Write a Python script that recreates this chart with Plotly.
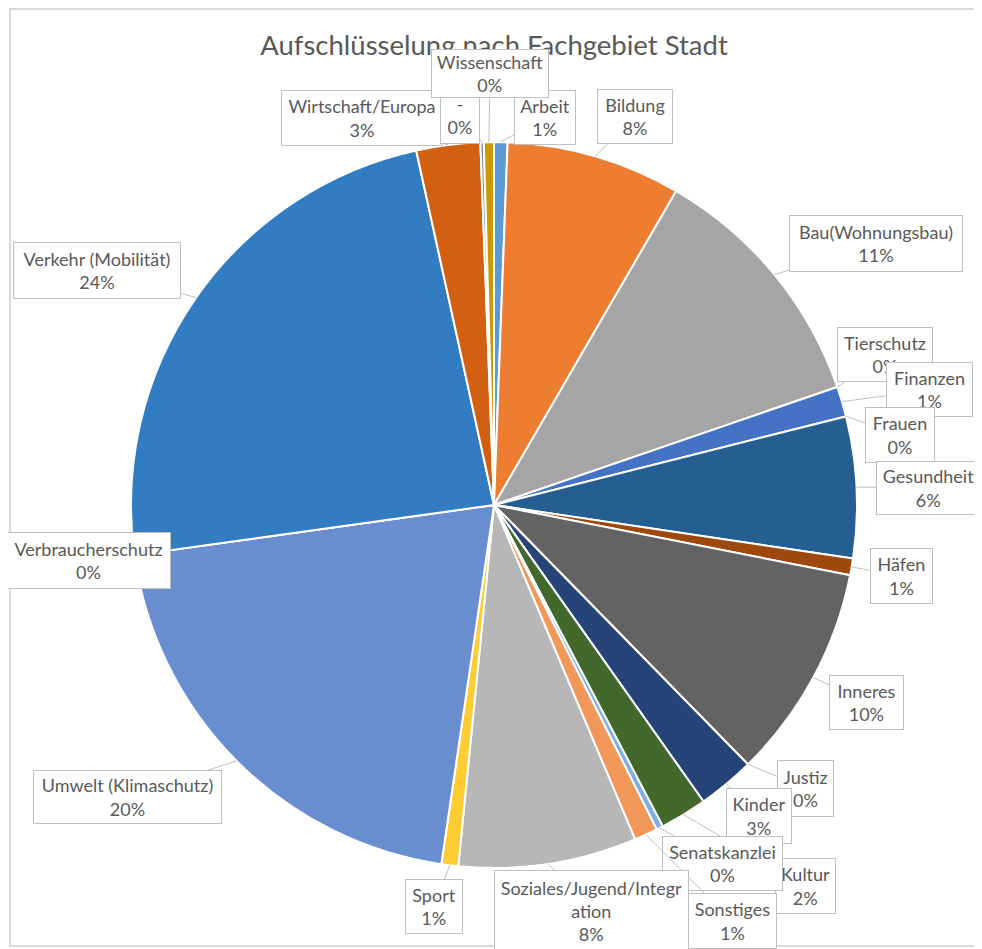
import math
import plotly.graph_objects as go

W, H = 982, 949
OFF = 8  # the html body margin shifts the figure by 8px in the page

# ------------------------------
# Data
# ------------------------------
labels = ["Arbeit", "Bildung", "Bau(Wohnungsbau)", "Tierschutz", "Finanzen", "Frauen",
          "Gesundheit", "Häfen", "Inneres", "Justiz", "Kinder", "Kultur", "Senatskanzlei",
          "Sonstiges", "Soziales/Jugend/Integration", "Sport", "Umwelt (Klimaschutz)",
          "Verbraucherschutz", "Verkehr (Mobilität)", "Wirtschaft/Europa", "-", "Wissenschaft"]
values = [4, 52, 76, 0, 9, 0,
          42, 5, 64, 0, 17, 14, 2,
          7, 53, 5, 137,
          0, 159, 19, 1, 3]

colors = ["#5B9BD5", "#ED7D31", "#A5A5A5", "#FFC000", "#4472C4", "#70AD47",
          "#255E91", "#9E480E", "#636363", "#997300", "#264478", "#43682B", "#7CAFDD",
          "#F1975A", "#B7B7B7", "#FFCD33", "#698ED0",
          "#8CC168", "#327DC2", "#D26012", "#848484", "#CC9A00"]

# Excel wrapped this one inside its callout
display = {"Soziales/Jugend/Integration": "Soziales/Jugend/Integr<br>ation"}

# --- callout boxes: centre x, centre y, width, height (page pixels)
boxes = [(545, 117, 60, 53), (635, 117, 74, 53), (876, 244, 172, 55), (885, 354, 94, 53),
         (929, 390, 85, 53), (900, 435, 68, 54), (928, 488, 103, 52), (901, 576, 61, 54),
         (866, 702, 73, 53), (805, 788, 55, 55), (759, 816, 64, 54), (805, 886, 59, 54),
         (722, 863, 119, 53), (732, 921, 87, 54), (591, 911, 193, 80), (434, 906, 56, 53),
         (127, 797, 187, 52), (88, 560, 163, 55), (97, 270, 166, 55), (362, 118, 160, 54),
         (460, 115, 38, 55), (490, 73, 116, 47)]

# ------------------------------
# Pie geometry (page pixels)
# ------------------------------
CX, CY, R = 494, 505, 363


def px(x):
    return (x - OFF) / W


def py(y):
    return 1 - (y - OFF) / H


fig = go.Figure(go.Pie(
    labels=labels, values=values, sort=False, direction="clockwise", rotation=0,
    marker=dict(colors=colors, line=dict(color="white", width=2)),
    textinfo="none", hoverinfo="label+percent", showlegend=False,
    domain=dict(x=[px(CX - R), px(CX + R)], y=[py(CY + R), py(CY - R)]),
))

total = sum(values)
annotations = []
cum = 0
for lab, v, (bx, by, bw, bh) in zip(labels, values, boxes):
    mid = (cum + v / 2) / total * 2 * math.pi
    cum += v
    tx = CX + R * math.sin(mid)
    ty = CY - R * math.cos(mid)
    pct = round(v / total * 100)
    annotations.append(dict(
        x=px(tx), y=py(ty), xref="paper", yref="paper",
        ax=bx - tx, ay=by - ty, axref="pixel", ayref="pixel",
        text=f"{display.get(lab, lab)}<br>{pct}%",
        showarrow=True, arrowhead=0, arrowwidth=1, arrowcolor="#BFBFBF", standoff=0,
        bgcolor="white", bordercolor="#BFBFBF", borderwidth=1, borderpad=0,
        width=bw, height=bh, align="center", valign="middle",
        font=dict(family="Lato", size=18, color="#595959"),
    ))

fig.update_layout(
    width=W, height=H,
    margin=dict(t=0, l=0, b=0, r=0),
    paper_bgcolor="white",
    title=dict(text="Aufschlüsselung nach Fachgebiet Stadt", x=px(494), xanchor="center",
               y=py(45), yanchor="middle",
               font=dict(family="Lato", size=27.5, color="#595959")),
    annotations=annotations,
    shapes=[dict(type="rect", xref="paper", yref="paper",
                 x0=px(10), x1=px(980), y0=py(946), y1=py(9),
                 line=dict(color="#D9D9D9", width=2), layer="above")],
)

fig.write_html("out.html")
